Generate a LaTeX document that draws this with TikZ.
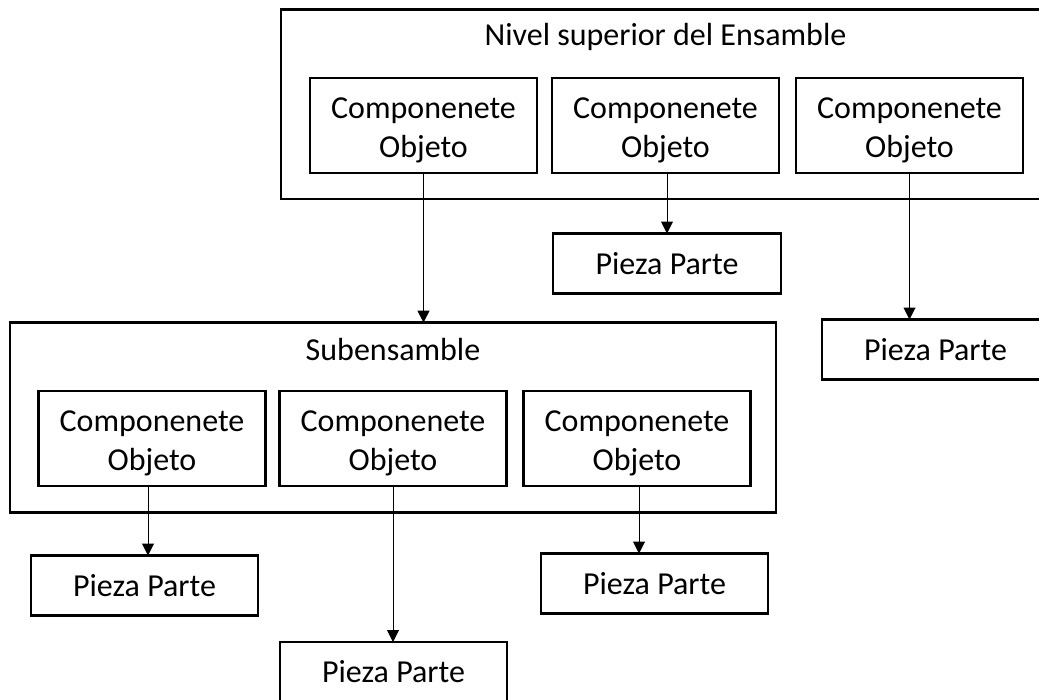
\documentclass[tikz,border=0pt]{standalone}
\usepackage{fontspec}
\setmainfont{Carlito}
\usetikzlibrary{arrows.meta}
\begin{document}
\begin{tikzpicture}[x=1pt,y=-1pt,
  every node/.style={font=\fontsize{32}{39}\selectfont, inner sep=0pt, outer sep=0pt},
  groupbox/.style={draw, line width=2.5pt, minimum width=#1, minimum height=190pt},
  compbox/.style={draw, line width=2.5pt, minimum width=227pt, minimum height=95pt, align=center},
  partbox/.style={draw, line width=2.5pt, minimum width=227pt, minimum height=60pt},
  titletext/.style={anchor=base},
  link/.style={line width=1pt, -{Triangle[width=12pt,length=12pt]}}
]
\useasboundingbox (0,0) rectangle (1039,699);
\clip (0,0) rectangle (1039,699);

% top-level assembly
\node[groupbox=769pt, minimum height=189.5pt] (top) at (665.5,104.25) {};
\node[titletext] (toptitle) at (665.5,45) {Nivel superior del Ensamble};
\node[compbox] (t1) at (423.5,125.5) {\rule{0pt}{30.5pt}Componenete\\Objeto};
\node[compbox] (t2) at (665.5,125.5) {\rule{0pt}{30.5pt}Componenete\\Objeto};
\node[compbox] (t3) at (909.5,125.5) {\rule{0pt}{30.5pt}Componenete\\Objeto};

\node[partbox, minimum width=228pt] (pt2) at (667,263.5) {Pieza Parte};
\node[partbox] (pr) at (935.5,349.5) {Pieza Parte};

% subassembly
\node[groupbox=766pt] (sub) at (393,417.6) {};
\node[titletext] (subtitle) at (393,360) {Subensamble};
\node[compbox] (s1) at (152,438.5) {\rule{0pt}{30.5pt}Componenete\\Objeto};
\node[compbox] (s2) at (393,438.5) {\rule{0pt}{30.5pt}Componenete\\Objeto};
\node[compbox] (s3) at (637,438.5) {\rule{0pt}{30.5pt}Componenete\\Objeto};

\node[partbox] (p1) at (144.5,585.5) {Pieza Parte};
\node[partbox] (p3) at (654.5,583.5) {Pieza Parte};
\node[partbox] (pb) at (393.5,672) {Pieza Parte};

% connectors
\draw[link] (t1.south) -- (t1.south |- sub.north);
\draw[link] (t2.south -| pt2.north) -- (pt2.north);
\draw[link] (t3.south) -- (t3.south |- pr.north);
\draw[link] ([xshift=-4pt]s1.south) -- ([xshift=-4pt]s1.south |- p1.north);
\draw[link] (s2.south) -- (s2.south |- pb.north);
\draw[link] ([xshift=2pt]s3.south) -- ([xshift=2pt]s3.south |- p3.north);
\end{tikzpicture}
\end{document}
